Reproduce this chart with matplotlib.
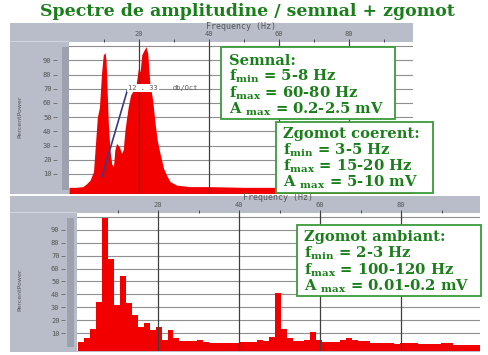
import numpy as np
import matplotlib.pyplot as plt
from matplotlib.patches import Rectangle

plt.rcParams['mathtext.fontset'] = 'dejavuserif'

W, H = 489, 355

title = "Spectre de amplitudine / semnal + zgomot"

# top spectrum: signal + coherent noise (Hz, percent power)
sig_freq = [0, 2, 4, 5, 6, 7, 7.7, 8.1, 8.7, 9.3, 9.8, 10.3, 10.6, 10.8, 11.2,
            11.7, 12.2, 12.7, 13.1, 13.6, 14.4, 15.0, 15.5, 16.0, 16.5, 16.9,
            17.6, 18.4, 19.1, 19.8, 20.3, 20.8, 21.4, 22.0, 22.5, 23.1, 23.9,
            24.6, 25.2, 26.0, 27.0, 27.9, 28.9, 30.8, 34.6, 40, 50, 98.3]
sig_power = [0.5, 0.5, 1, 3, 5.5, 11.5, 36, 50, 57, 81, 94, 95.5, 90, 76, 48,
             27, 17, 15, 27, 31.5, 29, 24.5, 27, 41, 50, 57,
             65.6, 69, 71.5, 84, 82, 94, 97, 99.7, 95, 74, 62,
             45.6, 34, 24.5, 14, 9, 4.5, 2, 1, 1, 0.5, 0.5]

# bottom spectrum: ambient noise, binned
noise_start = 0.3
noise_width = 1.47
noise_power = [3, 6, 13, 34, 99, 67, 32, 54, 33, 24, 15, 18, 12, 15, 5, 12,
               6, 4, 4, 4, 5, 3, 2.5, 2.5, 2.5, 2.5, 2.5, 3, 3, 3, 4.6, 4,
               6.7, 41, 13, 6, 4, 4, 4.3, 11, 4.6, 3, 3, 3, 4.3, 6, 5, 3.5,
               3.5, 2.5, 2.5, 2.5, 2, 1.5, 2.5, 2.5, 2.5, 1.5, 1.5, 1.5, 1.5,
               2, 2, 1, 0.5, 0.5, 0.5, 0.5]

freq_major = [20, 40, 60, 80]
freq_minor = [10, 30, 50, 70, 90]
power_ticks = [10, 20, 30, 40, 50, 60, 70, 80, 90]
grid_levels = [10, 20, 30, 40, 50, 60, 70, 80, 90, 100]

boxes = [
    ["Semnal:", r"f$_{\mathbf{min}}$ = 5-8 Hz", r"f$_{\mathbf{max}}$ = 60-80 Hz",
     r"A $_{\mathbf{max}}$ = 0.2-2.5 mV"],
    ["Zgomot coerent:", r"f$_{\mathbf{min}}$ = 3-5 Hz", r"f$_{\mathbf{max}}$ = 15-20 Hz",
     r"A $_{\mathbf{max}}$ = 5-10 mV"],
    ["Zgomot ambiant:", r"f$_{\mathbf{min}}$ = 2-3 Hz", r"f$_{\mathbf{max}}$ = 100-120 Hz",
     r"A $_{\mathbf{max}}$ = 0.01-0.2 mV"],
]

FRAME = '#b9bdca'
RED = '#f20000'
GREEN = '#1a7f1a'
TXT = '#555555'

fig = plt.figure(figsize=(W / 100, H / 100), dpi=100)
fig.patch.set_facecolor('white')


def fig_rect(x0, y0, x1, y1, z, **kw):
    r = Rectangle((x0 / W, 1 - y1 / H), (x1 - x0) / W, (y1 - y0) / H,
                  transform=fig.transFigure, zorder=z, **kw)
    fig.patches.append(r)


def panel(frame, plot, scroll, xmax, ylim, label_xy):
    fig_rect(*frame, -2, fc=FRAME, ec='none')
    fig_rect(frame[0], plot[1] - 1, plot[0], plot[1], -1, fc='#d2d5de', ec='none')
    fig_rect(*scroll, -1, fc='#9da1ad', ec='none')
    x0, y0, x1, y1 = plot
    ax = fig.add_axes([x0 / W, 1 - y1 / H, (x1 - x0) / W, (y1 - y0) / H])
    ax.set_zorder(1)
    ax.set_facecolor('white')
    ax.set_xlim(0, xmax)
    ax.set_ylim(*ylim)
    for s in ['top', 'right', 'bottom']:
        ax.spines[s].set_visible(False)
    ax.spines['left'].set_position(('outward', 8.6))
    ax.spines['left'].set_visible(False)
    for lv in grid_levels:
        ax.axhline(lv, color='#8f8f8f', lw=0.8, zorder=1)
    for f in freq_major:
        ax.axvline(f, color='#404040', lw=0.9, zorder=3)
    ax.xaxis.tick_top()
    ax.xaxis.set_label_position('top')
    ax.set_xticks(freq_major)
    ax.set_xticks(freq_minor, minor=True)
    ax.tick_params(axis='x', which='both', length=2.2, width=0.6, color='#333333',
                   labelsize=5, labelcolor=TXT, pad=1.5)
    for t in ax.get_xticklabels():
        t.set_family('DejaVu Sans Mono')
    ax.set_xlabel("Frequency (Hz)", fontsize=6, color=TXT, family='DejaVu Sans Mono',
                  labelpad=1.5)
    ax.set_yticks(power_ticks)
    ax.tick_params(axis='y', length=3, width=0.6, color='#666666', labelsize=5,
                   labelcolor=TXT, pad=1)
    for t in ax.get_yticklabels():
        t.set_family('DejaVu Sans Mono')
    fig.text(label_xy[0] / W, 1 - label_xy[1] / H, "PercentPower", rotation=90,
             fontsize=4.5, color=TXT, ha='center', va='center')
    return ax


# top panel
ax1 = panel((10, 23, 413, 194), (69, 42, 413, 193), (62, 47, 69, 190),
            98.3, (-3.5, 103), (20, 117))
ax1.fill_between(sig_freq, -5, sig_power, color=RED, lw=0, zorder=2)
ax1.plot([9.4, 16.8], [7.8, 70], color='#3a3a8a', lw=1.2, zorder=4)
ax1.text(16.9, 70.4, "12 . 33", fontsize=5, color=TXT, family='DejaVu Sans Mono',
         va='center', ha='left', zorder=5,
         bbox=dict(fc='white', ec='none', pad=0.6))
ax1.text(29.5, 70.4, "db/Oct", fontsize=5, color=TXT, family='DejaVu Sans Mono',
         va='center', ha='left', zorder=5)

# bottom panel
ax2 = panel((10, 196, 480, 352), (77, 213, 480, 351), (67, 218, 74, 347),
            99.5, (-3.9, 103), (20, 290))
edges = noise_start + noise_width * np.arange(len(noise_power) + 1)
ax2.stairs(noise_power, edges, baseline=-5, fill=True, color=RED, lw=0, zorder=2)

# title
fig.text(247 / W, 1 - 12 / H, title, fontsize=12.5, fontweight='heavy',
         family='DejaVu Serif', color=GREEN, ha='center', va='center')

# parameter boxes
box_rects = [(221, 47, 395, 119), (276, 122, 433, 193), (297, 225, 481, 296)]
text_x = [229, 283, 304]
baselines = [[65, 81, 97.5, 114], [138, 154.5, 171, 187], [241.5, 258, 274.5, 291]]
for rect, lines, tx, bls in zip(box_rects, boxes, text_x, baselines):
    fig_rect(*rect, 10, fc='white', ec='#3c9a3c', lw=1.3)
    for line, bl in zip(lines, bls):
        fig.text(tx / W, 1 - bl / H, line, fontsize=10.6, fontweight='bold',
                 family='DejaVu Serif', color=GREEN, ha='left', va='baseline',
                 zorder=11)

fig.savefig('out.png', dpi=100)
